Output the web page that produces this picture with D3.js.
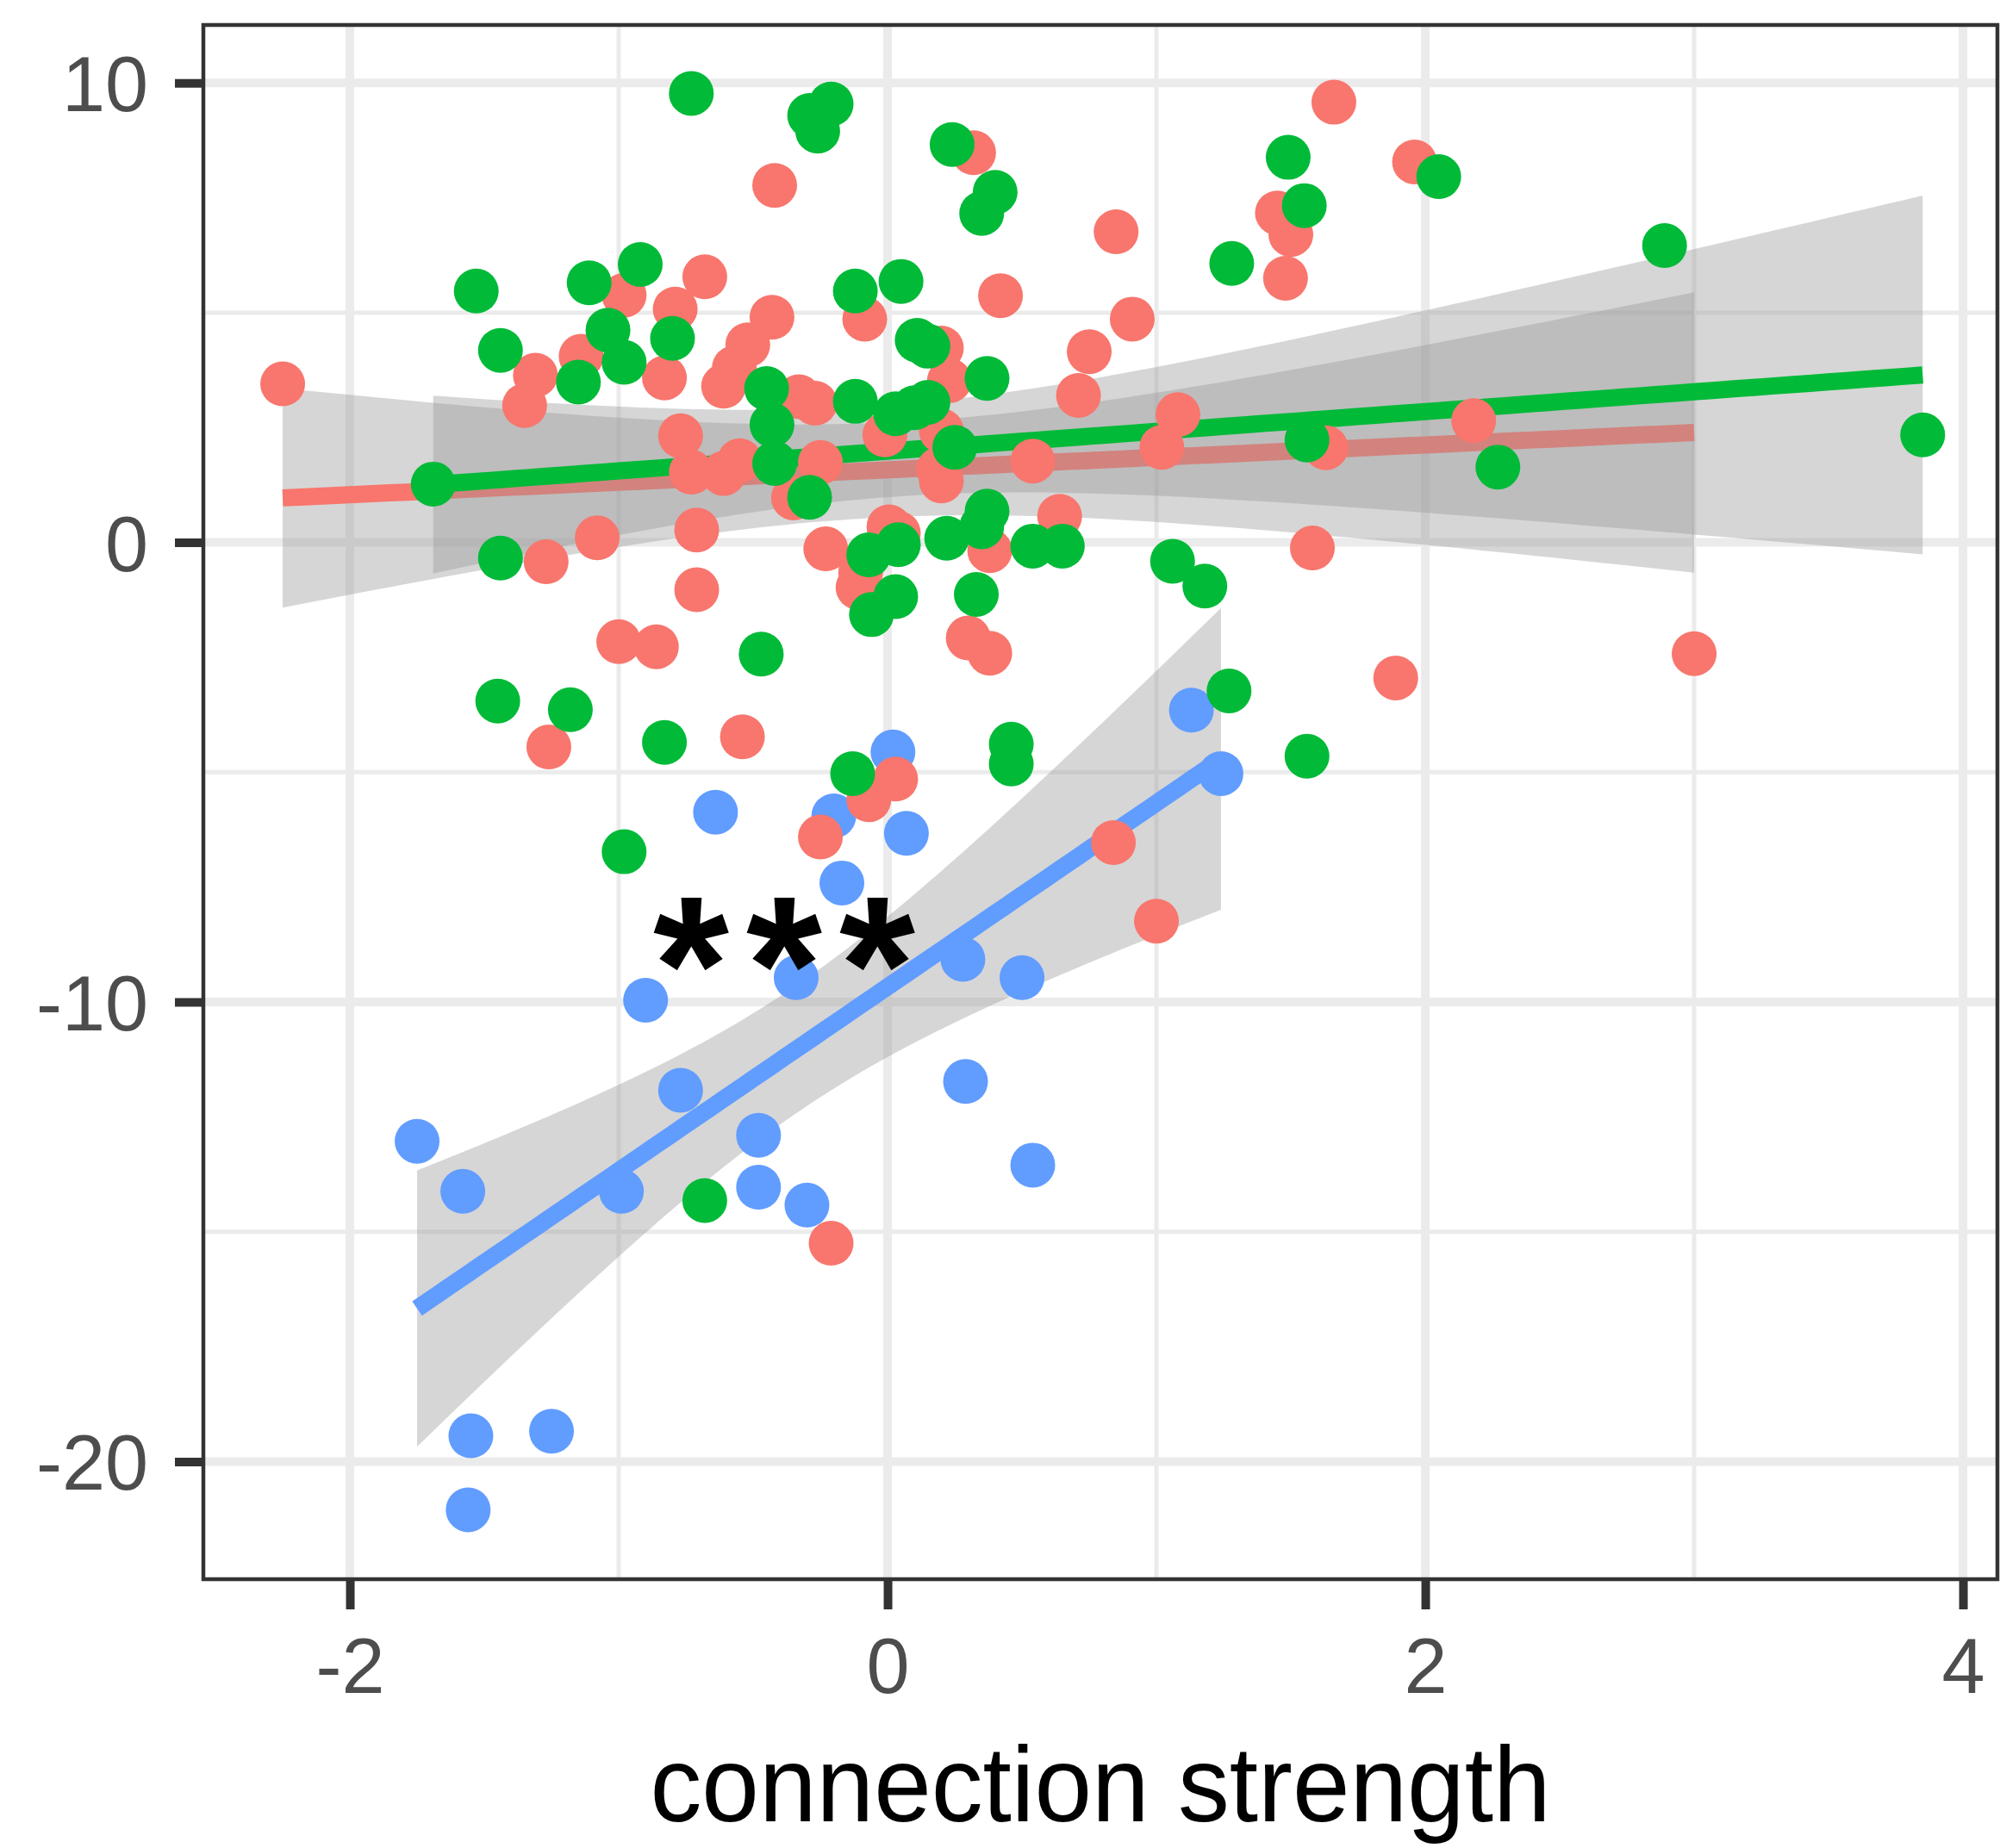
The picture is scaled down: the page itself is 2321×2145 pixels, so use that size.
<!DOCTYPE html>
<html>
<head>
<meta charset="utf-8">
<script src="https://cdn.jsdelivr.net/npm/d3@7"></script>
<style>
  html, body { margin: 0; padding: 0; background: #ffffff; }
  svg { display: block; }
</style>
</head>
<body>
<svg id="chart" width="2321" height="2145"></svg>
<script>
// ---- data -------------------------------------------------------------
const groupNames  = ["red", "green", "blue"];
const groupColors = ["#F8766D", "#00BA38", "#619CFF"];

const xTicks = [-2, 0, 2, 4];
const yTicks = [10, 0, -10, -20];
const xMinorTicks = [-1, 1, 3];
const yMinorTicks = [5, -5, -15];
const xTitle = "connection strength";
const starLabel = "***";

const redX = [-2.25, 1.66, 0.32, -0.42, 1.96, 0.85, 1.45, 1.50, 1.48, 0.42,
              0.91, 0.75, 0.71, 1.08, 1.02, 0.54, 1.63, 2.18, 0.64, 1.58,
              1.89, 3.00, -0.68, -0.085, 0.20, 0.23, -0.79, -0.83, -0.43, -0.52,
              -0.57, -0.61, -0.27, -0.33, 0.20, -0.01, -0.77, -0.73, -0.61, -0.55,
              -0.25, -0.35, 0.19, 0.20, 0.38, -0.71, -1.08, -0.23, 0.005, 0.04,
              -0.10, -0.11, -0.71, -0.98, -1.31, -1.35, -1.14, -1.27, -1.00, -0.86,
              -1.26, 0.30, 0.38, -0.54, 0.03, -0.07, -0.25, 0.84, 1.00, -0.21];
const redY = [3.45, 9.58, 8.48, 7.77, 8.28, 6.76, 7.17, 6.70, 5.75, 5.37,
              4.86, 4.15, 3.20, 2.78, 2.07, 1.77, 2.06, 2.65, 0.57, -0.12,
              -2.95, -2.42, 5.78, 4.86, 4.23, 3.52, 5.08, 3.58, 4.90, 4.30,
              3.80, 3.40, 3.03, 3.17, 2.43, 2.34, 2.32, 1.53, 1.50, 1.78,
              1.74, 0.97, 1.59, 1.34, -0.18, 0.27, 0.10, -0.14, 0.34, 0.20,
              -0.65, -0.98, -1.03, 5.38, 3.64, 2.98, 4.05, -0.42, -2.16, -2.27,
              -4.45, -2.08, -2.41, -4.23, -5.15, -5.60, -6.41, -6.53, -8.24, -15.25];

const greenX = [-0.73, -0.29, -0.21, -0.26, 0.24, 0.40, 0.35, 1.49, 1.55, 2.05,
                1.28, 2.89, 3.85, 2.27, 1.56, -0.92, -1.11, -1.53, -0.12, 0.05,
                -1.04, -0.98, -1.44, -1.15, -0.80, 0.11, 0.15, 0.37, -0.45, -0.43,
                -0.12, 0.03, 0.10, 0.15, 0.25, -0.42, -0.29, -1.69, 0.35, 0.37,
                0.22, 0.54, 0.65, 1.06, 1.18, -0.07, 0.04, -0.06, 0.03, 0.33,
                -1.44, -0.47, -1.45, -1.18, -0.83, -0.98, 0.46, 0.46, -0.13, 1.27,
                1.56, -0.68];
const greenY = [9.77, 9.29, 9.54, 8.95, 8.66, 7.62, 7.16, 8.38, 7.33, 7.96,
                6.07, 6.46, 2.34, 1.64, 2.23, 6.05, 5.65, 5.47, 5.47, 5.68,
                4.62, 3.92, 4.18, 3.49, 4.44, 4.40, 4.27, 3.57, 3.35, 2.56,
                3.07, 2.80, 2.93, 3.05, 2.07, 1.72, 0.98, 1.27, 0.34, 0.68,
                0.09, -0.08, -0.08, -0.41, -0.95, -0.27, -0.05, -1.57, -1.18, -1.13,
                -0.34, -2.43, -3.45, -3.64, -4.35, -6.73, -4.39, -4.82, -5.03, -3.23,
                -4.65, -14.32];

const blueX = [0.02, -0.64, -0.20, 0.07, -0.17, 1.13, 1.24, -0.90, -0.34, 0.28,
               0.50, -0.77, 0.29, -1.75, -1.58, -0.99, -0.48, -0.48, -0.30, 0.54,
               -1.55, -1.25, -1.56];
const blueY = [-4.56, -5.87, -5.95, -6.33, -7.41, -3.65, -5.03, -9.96, -9.47, -9.07,
               -9.47, -11.92, -11.73, -13.03, -14.12, -14.12, -12.90, -14.03, -14.42, -13.55,
               -19.44, -19.34, -21.05];

// linear fits per group (red, green, blue): fitted line and its 95% band
const fitXMin      = [-2.25, -1.69, -1.75];
const fitXMax      = [3.00, 3.85, 1.24];
const fitIntercept = [1.58, 1.987, -9.67];
const fitSlope     = [0.271, 0.4304, 4.0];
const fitXMean     = [0.0, 0.0, -0.337];
const fitHalfAtMean = [1.03, 1.0, 1.39];   // band half-width at the mean of x
const fitHalfSlope  = [0.957, 0.98, 1.885]; // growth of half-width away from the mean

// annotation position (data units, text baseline)
const starPos = [-0.385, -10.65];

// ---- layout -------------------------------------------------------------
const panel = { left: 236, right: 2318, top: 29, bottom: 1833 };
const xDomain = [-2.545, 4.128];
const yDomain = [-22.56, 11.26];
const fontFamily = "'Liberation Sans', Arial, Helvetica, sans-serif";

const svg = d3.select("#chart");
const x = d3.scaleLinear().domain(xDomain).range([panel.left, panel.right]);
const y = d3.scaleLinear().domain(yDomain).range([panel.bottom, panel.top]);

svg.append("rect").attr("width", 2321).attr("height", 2145).attr("fill", "#ffffff");

svg.append("defs").append("clipPath").attr("id", "panel-clip")
  .append("rect")
  .attr("x", panel.left).attr("y", panel.top)
  .attr("width", panel.right - panel.left)
  .attr("height", panel.bottom - panel.top);

const plot = svg.append("g").attr("clip-path", "url(#panel-clip)");

// grid
const grid = plot.append("g");
grid.selectAll("line.xminor").data(xMinorTicks).join("line")
  .attr("x1", d => x(d)).attr("x2", d => x(d))
  .attr("y1", panel.top).attr("y2", panel.bottom)
  .attr("stroke", "#ebebeb").attr("stroke-width", 5);
grid.selectAll("line.yminor").data(yMinorTicks).join("line")
  .attr("y1", d => y(d)).attr("y2", d => y(d))
  .attr("x1", panel.left).attr("x2", panel.right)
  .attr("stroke", "#ebebeb").attr("stroke-width", 5);
grid.selectAll("line.xmajor").data(xTicks).join("line")
  .attr("x1", d => x(d)).attr("x2", d => x(d))
  .attr("y1", panel.top).attr("y2", panel.bottom)
  .attr("stroke", "#ebebeb").attr("stroke-width", 10);
grid.selectAll("line.ymajor").data(yTicks).join("line")
  .attr("y1", d => y(d)).attr("y2", d => y(d))
  .attr("x1", panel.left).attr("x2", panel.right)
  .attr("stroke", "#ebebeb").attr("stroke-width", 10);

// smoothers: band then line for each group, in group order
groupNames.forEach((name, i) => {
  const xs = d3.range(80).map(k => fitXMin[i] + (fitXMax[i] - fitXMin[i]) * k / 79);
  const fit = xs.map(v => {
    const yhat = fitIntercept[i] + fitSlope[i] * v;
    const h = Math.sqrt(fitHalfAtMean[i] ** 2 + (fitHalfSlope[i] * (v - fitXMean[i])) ** 2);
    return { x: v, y: yhat, lo: yhat - h, hi: yhat + h };
  });
  plot.append("path")
    .datum(fit)
    .attr("d", d3.area().x(d => x(d.x)).y0(d => y(d.lo)).y1(d => y(d.hi)))
    .attr("fill", "#999999").attr("fill-opacity", 0.4);
  plot.append("path")
    .datum(fit)
    .attr("d", d3.line().x(d => x(d.x)).y(d => y(d.y)))
    .attr("fill", "none")
    .attr("stroke", groupColors[i])
    .attr("stroke-width", 20);
});

// points
const pointSets = [
  { xs: blueX, ys: blueY, color: groupColors[2] },
  { xs: redX, ys: redY, color: groupColors[0] },
  { xs: greenX, ys: greenY, color: groupColors[1] }
];
pointSets.forEach(set => {
  const pts = set.xs.map((v, k) => [v, set.ys[k]]);
  plot.append("g").selectAll("circle").data(pts).join("circle")
    .attr("cx", d => x(d[0])).attr("cy", d => y(d[1]))
    .attr("r", 26)
    .attr("fill", set.color);
});

// significance marker: each asterisk placed on its own, evenly spaced
const starSpacing = 108;
svg.append("g").selectAll("text")
  .data(starLabel.split(""))
  .join("text")
  .attr("x", (d, k) => x(starPos[0]) + (k - 1) * starSpacing)
  .attr("y", y(starPos[1]))
  .attr("text-anchor", "middle")
  .attr("font-family", fontFamily)
  .attr("font-weight", "bold")
  .attr("font-size", 226)
  .attr("fill", "#000000")
  .text(d => d);

// panel border
svg.append("rect")
  .attr("x", panel.left).attr("y", panel.top)
  .attr("width", panel.right - panel.left)
  .attr("height", panel.bottom - panel.top)
  .attr("fill", "none")
  .attr("stroke", "#333333")
  .attr("stroke-width", 4.5);

// axes
function styleAxis(g) {
  g.select(".domain").remove();
  g.attr("font-family", fontFamily).attr("font-size", 90);
  g.selectAll(".tick line").attr("stroke", "#333333").attr("stroke-width", 10);
  g.selectAll(".tick text").attr("fill", "#4d4d4d");
}

svg.append("g")
  .attr("transform", `translate(0,${panel.bottom})`)
  .call(d3.axisBottom(x).tickValues(xTicks).tickFormat(d => String(d))
    .tickSize(35).tickPadding(33))
  .call(styleAxis);

svg.append("g")
  .attr("transform", `translate(${panel.left},0)`)
  .call(d3.axisLeft(y).tickValues(yTicks).tickFormat(d => String(d))
    .tickSize(33).tickPadding(31))
  .call(styleAxis)
  .call(g => g.selectAll(".tick text").attr("dy", "0.36em"));

// axis title
svg.append("text")
  .attr("x", (panel.left + panel.right) / 2)
  .attr("y", 2114)
  .attr("text-anchor", "middle")
  .attr("font-family", fontFamily)
  .attr("font-size", 124)
  .attr("fill", "#000000")
  .attr("textLength", 1045)
  .attr("lengthAdjust", "spacingAndGlyphs")
  .text(xTitle);
</script>
</body>
</html>
